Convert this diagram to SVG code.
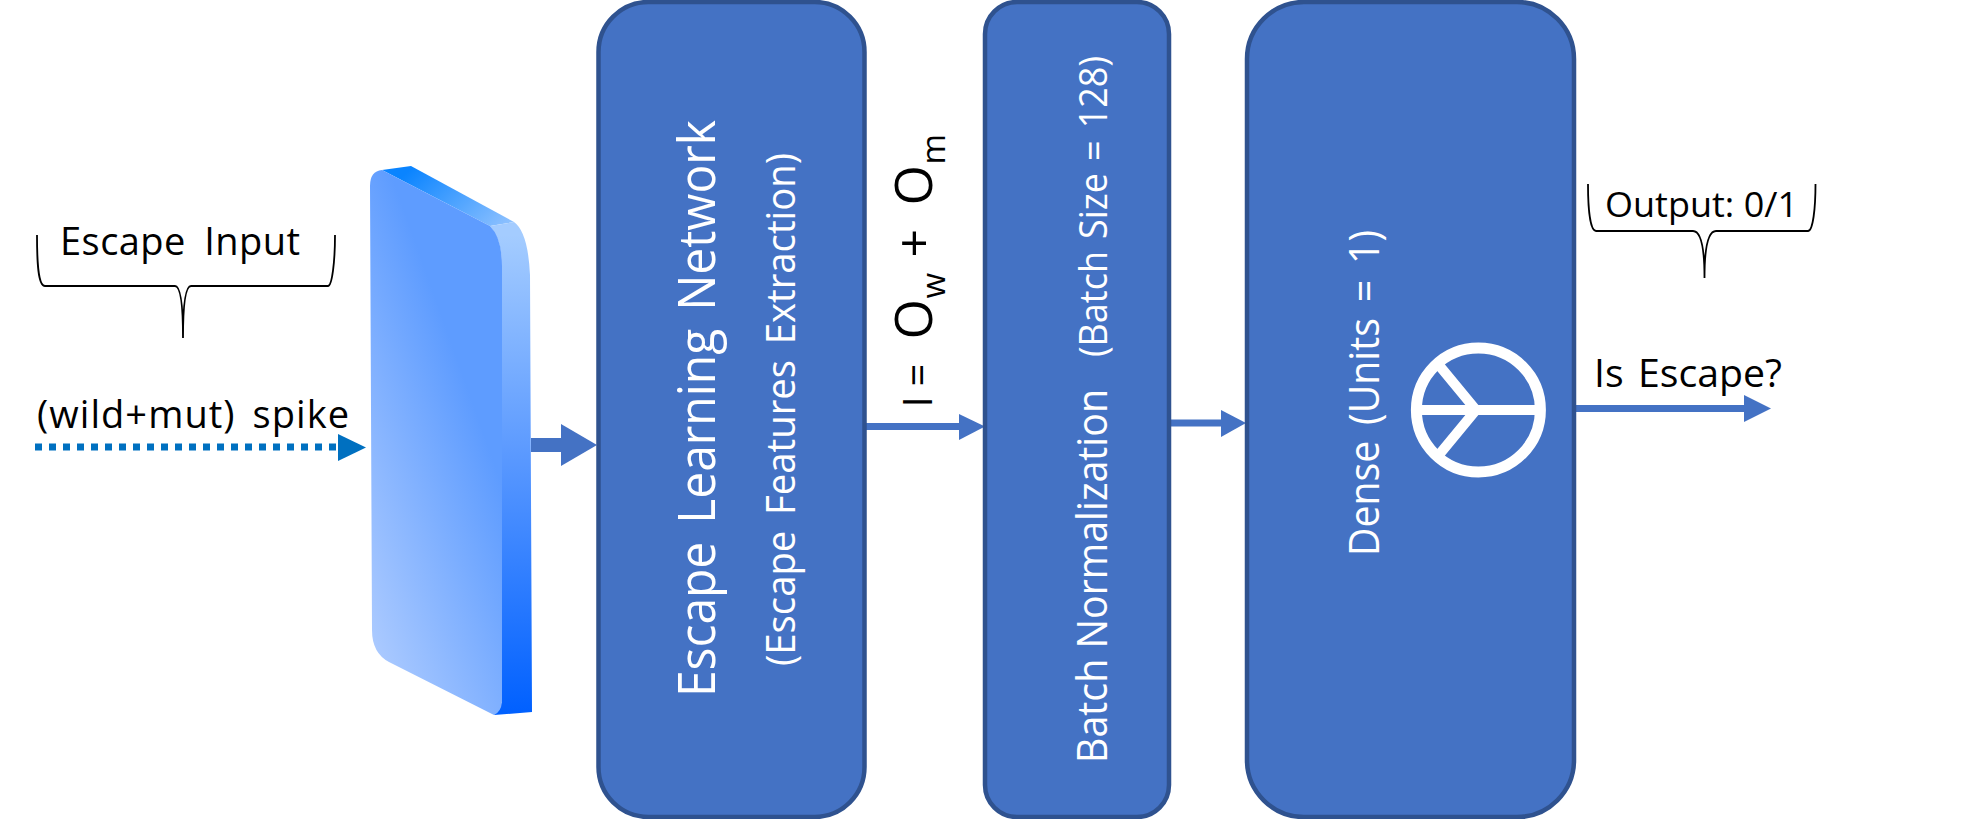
<svg xmlns="http://www.w3.org/2000/svg" width="1987" height="819" viewBox="0 0 1987 819">
<style>
text{font-family:"Open Sans","Noto Sans","Liberation Sans",sans-serif;fill:#000}
.w{fill:#fff}
.box{fill:#4472C4;stroke:#2F528F;stroke-width:4.5}
.conn{stroke:#4472C4;fill:none}
.head{fill:#4472C4}
.brace{fill:none;stroke:#000;stroke-width:1.8}
</style>
<defs>
<linearGradient id="gf" gradientUnits="userSpaceOnUse" x1="372" y1="680" x2="549" y2="617"><stop offset="0" stop-color="#B0CDFF"/><stop offset="1" stop-color="#5E9CFF"/></linearGradient>
<linearGradient id="gs" gradientUnits="userSpaceOnUse" x1="515" y1="235" x2="515" y2="715"><stop offset="0" stop-color="#A4CCFF"/><stop offset="0.45" stop-color="#5C9AFF"/><stop offset="1" stop-color="#0060FF"/></linearGradient>
<linearGradient id="gt" gradientUnits="userSpaceOnUse" x1="420" y1="160" x2="495" y2="240"><stop offset="0" stop-color="#0A84FF"/><stop offset="1" stop-color="#90C2FF"/></linearGradient>
</defs>
<g id="connectors">
<line x1="35" y1="447" x2="338" y2="447" stroke="#0070C0" stroke-width="7" stroke-dasharray="7 7"/>
<polygon points="338,434 366,447.5 338,461" fill="#0070C0"/>
<line class="conn" x1="531" y1="445" x2="562" y2="445" stroke-width="14"/>
<polygon class="head" points="561,424 597,445 561,466"/>
<line class="conn" x1="866" y1="426.5" x2="960" y2="426.5" stroke-width="7"/>
<polygon class="head" points="959,414 985,426.5 959,440"/>
<line class="conn" x1="1171" y1="423" x2="1222" y2="423" stroke-width="7"/>
<polygon class="head" points="1221,410 1246,423 1221,437"/>
<line class="conn" x1="1575" y1="408.5" x2="1745" y2="408.5" stroke-width="7"/>
<polygon class="head" points="1744,395 1771,408.5 1744,422"/>
</g>
<g id="input-label">
<text x="60" y="255" font-size="38" textLength="240" word-spacing="8">Escape Input</text>
<path class="brace" d="M37,235 C37,262 38,286 45,286 L175,286 C180,286 183,300 183,338 C183,300 186,286 191,286 L328,286 C332,286 335,262 335,235"/>
</g>
<g id="spike-label"><text x="37" y="428" font-size="38" textLength="312" lengthAdjust="spacing" word-spacing="6">(wild+mut) spike</text></g>
<g id="input-slab">
<path fill="url(#gt)" d="M382,170 L411,166 L514,222 L490,226Z"/>
<path fill="url(#gs)" d="M490,226 L514,222 Q528,232 530,275 L532,712 L494,715 L502,702 L502,266 Q502,240 490,226Z"/>
<path fill="url(#gf)" d="M370,186 Q370,171 382,170 L490,226 Q502,238 502,266 L502,702 Q501,712 494,715 L389,662 Q372,653 372,630 Z"/>
</g>
<g id="escape-learning-network">
<rect class="box" x="598.5" y="2" width="266" height="815" rx="50" ry="50"/>
<text class="w" transform="translate(715,697) rotate(-90)" font-size="52" textLength="577" lengthAdjust="spacingAndGlyphs" word-spacing="6">Escape Learning Network</text>
<text class="w" transform="translate(794.5,666) rotate(-90)" font-size="40" textLength="513" lengthAdjust="spacingAndGlyphs" word-spacing="6">(Escape Features Extraction)</text>
</g>
<g id="batch-normalization">
<rect class="box" x="985" y="2" width="184" height="815" rx="32" ry="32"/>
<text class="w" transform="translate(1107,763) rotate(-90)" font-size="42" textLength="374" lengthAdjust="spacingAndGlyphs">Batch Normalization</text>
<text class="w" transform="translate(1107,357) rotate(-90)" font-size="39" textLength="301" lengthAdjust="spacingAndGlyphs" word-spacing="3">(Batch Size = 128)</text>
</g>
<g id="dense">
<rect class="box" x="1247" y="2" width="327" height="815" rx="57" ry="57"/>
<text class="w" transform="translate(1378.5,556) rotate(-90)" font-size="42" textLength="326" lengthAdjust="spacingAndGlyphs" word-spacing="6">Dense (Units = 1)</text>
<circle cx="1478.4" cy="410" r="62" fill="none" stroke="#fff" stroke-width="11"/>
<path d="M1416,410 H1541 M1438,364 L1476,410 L1438,456" fill="none" stroke="#fff" stroke-width="10"/>
</g>
<g id="formula"><text transform="translate(931.5,407.5) rotate(-90)" font-size="40"><tspan x="0">I</tspan><tspan x="21">=</tspan><tspan x="68" font-size="52">O</tspan><tspan x="109" dy="13" font-size="33">w</tspan><tspan x="150" dy="-13" font-size="50">+</tspan><tspan x="202" font-size="52">O</tspan><tspan x="243" dy="13" font-size="33">m</tspan></text></g>
<g id="output-label">
<text x="1605" y="217" font-size="35" textLength="193" lengthAdjust="spacingAndGlyphs">Output: 0/1</text>
<path class="brace" d="M1588,184 C1588,208 1590,231 1596,231 L1693,231 C1700,231 1704.5,245 1704.5,278 C1704.5,245 1709,231 1716,231 L1808,231 C1813,231 1815.5,208 1815.5,184"/>
</g>
<g id="is-escape-label"><text x="1594" y="387" font-size="38" textLength="188" lengthAdjust="spacingAndGlyphs" word-spacing="4">Is Escape?</text></g>
</svg>
